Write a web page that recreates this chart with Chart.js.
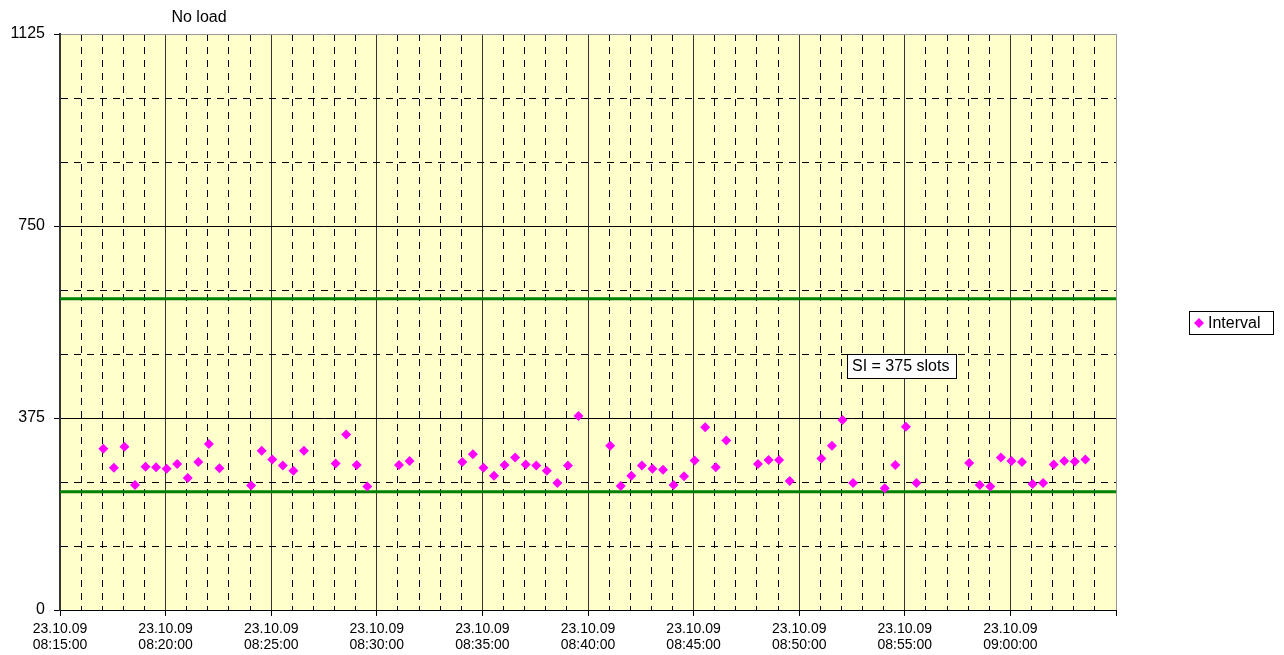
<!DOCTYPE html>
<html>
<head>
<meta charset="utf-8">
<title>No load</title>
<script src="https://cdn.jsdelivr.net/npm/chart.js@4.4.1/dist/chart.umd.min.js"></script>
<style>
  body { margin: 0; background: #fff; }
  canvas { display: block; }
</style>
</head>
<body>
<canvas id="myChart" width="1284" height="655"></canvas>
<script>
// ---------------------------------------------------------------- data section
var chart_title = 'No load';
var chart_date = '23.10.09';
var series_label = 'Interval';
var si_text = 'SI = 375 slots';

// sample times (hh:mm:ss) and interval values
var interval_times = [
    '08:17:03', '08:17:33', '08:18:03', '08:18:33', '08:19:03', '08:19:33', '08:20:03', '08:20:33',
    '08:21:03', '08:21:33', '08:22:03', '08:22:33',
    '08:24:03', '08:24:33', '08:25:03', '08:25:33', '08:26:03', '08:26:33',
    '08:28:03', '08:28:33', '08:29:03', '08:29:33',
    '08:31:03', '08:31:33',
    '08:34:03', '08:34:33', '08:35:03', '08:35:33', '08:36:03', '08:36:33', '08:37:03', '08:37:33',
    '08:38:03', '08:38:33', '08:39:03', '08:39:33',
    '08:41:03', '08:41:33', '08:42:03', '08:42:33', '08:43:03', '08:43:33', '08:44:03', '08:44:33',
    '08:45:03', '08:45:33', '08:46:03', '08:46:33',
    '08:48:03', '08:48:33', '08:49:03', '08:49:33',
    '08:51:03', '08:51:33', '08:52:03', '08:52:33',
    '08:54:03', '08:54:33', '08:55:03', '08:55:33',
    '08:58:03', '08:58:33', '08:59:03', '08:59:33', '09:00:03', '09:00:33', '09:01:03', '09:01:33',
    '09:02:03', '09:02:33', '09:03:03', '09:03:33'
];
var interval_values = [
    315, 278, 319, 244, 280, 279, 276, 285,
    258, 289, 324, 277,
    243, 311, 294, 282, 272, 311,
    286, 343, 283, 241,
    283, 291,
    289, 304, 278, 262, 283, 298, 284, 282,
    272, 248, 282, 379,
    321, 242, 262, 282, 276, 274, 244, 261,
    292, 357, 279, 331,
    285, 293, 293, 252,
    296, 321, 371, 248,
    238, 283, 358, 248,
    287, 244, 241, 298, 291, 289, 246, 248,
    284, 291, 290, 294
];

// green limit lines
var limit_values = [608, 231];

// axes
var x_start = '08:15:00';
var x_end = '09:05:00';
var y_ticks = [0, 375, 750, 1125];
var y_minor_step = 125;

// --------------------------------------------------------------------------------------------- helpers
function toSec(t) {
    var p = t.split(':');
    return (+p[0]) * 3600 + (+p[1]) * 60 + (+p[2]);
}
function pad(n) { return (n < 10 ? '0' : '') + n; }
function toHms(s) {
    return pad(Math.floor(s / 3600)) + ':' + pad(Math.floor(s / 60) % 60) + ':' + pad(s % 60);
}

var xMin = toSec(x_start);
var xMax = toSec(x_end);
var yMax = y_ticks[y_ticks.length - 1];
var yMajor = y_ticks[1];

var points = [];
for (var i = 0; i < interval_times.length; i++) {
    points.push({ x: toSec(interval_times[i]), y: interval_values[i] });
}

var limitSets = limit_values.map(function (v) {
    return {
        type: 'line',
        label: 'limit',
        data: [{ x: xMin, y: v }, { x: xMax, y: v }],
        borderColor: '#008000',
        borderWidth: 3,
        pointRadius: 0,
        fill: false
    };
});

var FONT = '"Liberation Sans", Arial, sans-serif';

// yellow plot area, title, legend box and SI label
const plotExtras = {
    id: 'plotExtras',
    beforeDraw(chart) {
        const { ctx, chartArea: a } = chart;
        ctx.save();
        ctx.fillStyle = '#FFFFCC';
        ctx.fillRect(a.left, a.top, a.width, a.height);
        ctx.restore();
    },
    afterDatasetsDraw(chart) {
        const { ctx, scales } = chart;
        ctx.save();
        ctx.font = '16px ' + FONT;
        ctx.textBaseline = 'middle';

        // SI label box
        var bx = Math.round(scales.x.getPixelForValue(toSec('08:52:17')));
        var by = Math.round(scales.y.getPixelForValue(500));
        var tw = Math.round(ctx.measureText(si_text).width);
        ctx.fillStyle = '#fff';
        ctx.fillRect(bx, by, tw + 12, 24);
        ctx.strokeStyle = '#000';
        ctx.lineWidth = 1;
        ctx.strokeRect(bx + 0.5, by + 0.5, tw + 12, 24);
        ctx.fillStyle = '#000';
        ctx.textAlign = 'left';
        ctx.fillText(si_text, bx + 5, by + 13);
        ctx.restore();
    },
    afterDraw(chart) {
        const { ctx, chartArea: a } = chart;
        ctx.save();
        ctx.textBaseline = 'middle';
        ctx.fillStyle = '#000';

        // title
        ctx.font = '16px ' + FONT;
        ctx.textAlign = 'center';
        ctx.fillText(chart_title, a.left + 139, 18);

        // legend
        var lx = a.right + 73, ly = Math.round((a.top + a.bottom) / 2) - 11;
        var lw = Math.round(ctx.measureText(series_label).width);
        ctx.fillStyle = '#fff';
        ctx.fillRect(lx, ly, lw + 32, 23);
        ctx.strokeStyle = '#000';
        ctx.lineWidth = 1;
        ctx.strokeRect(lx + 0.5, ly + 0.5, lw + 32, 23);
        var cx = lx + 10, cy = ly + 12;
        ctx.fillStyle = '#FF00FF';
        ctx.beginPath();
        ctx.moveTo(cx, cy - 5); ctx.lineTo(cx + 5, cy); ctx.lineTo(cx, cy + 5); ctx.lineTo(cx - 5, cy);
        ctx.closePath();
        ctx.fill();
        ctx.fillStyle = '#000';
        ctx.textAlign = 'left';
        ctx.fillText(series_label, lx + 19, cy + 1);
        ctx.restore();
    }
};

// ---------------------------------------------------------------------------------------------- chart
const ctx = document.getElementById('myChart').getContext('2d');
const myChart = new Chart(ctx, {
    type: 'scatter',
    data: {
        datasets: [{
            label: series_label,
            data: points,
            pointStyle: 'rectRot',
            pointRadius: 5,
            pointBackgroundColor: '#FF00FF',
            pointBorderWidth: 0,
            showLine: false
        }].concat(limitSets)
    },
    options: {
        responsive: false,
        animation: false,
        layout: { padding: { left: 0, top: 34, right: 168, bottom: 0 } },
        plugins: {
            legend: { display: false },
            title: { display: false },
            tooltip: { enabled: false }
        },
        scales: {
            x: {
                type: 'linear',
                min: xMin,
                max: xMax,
                afterFit: function (s) { s.height = 45; },
                ticks: {
                    stepSize: 60,
                    autoSkip: false,
                    maxRotation: 0,
                    padding: 6,
                    color: '#000',
                    font: { family: FONT, size: 14, lineHeight: 1.08 },
                    callback: function (v) {
                        if (v % 300 !== 0 || v === xMax) return '';
                        return [chart_date, toHms(v)];
                    }
                },
                grid: {
                    lineWidth: 1,
                    tickLength: 6,
                    color: function (c) {
                        if (!c.tick) return '#000';
                        if (c.tick.value === xMax) return '#999';
                        return c.tick.value % 300 === 0 ? '#333' : '#000';
                    },
                    tickColor: function (c) {
                        return c.tick && c.tick.value % 300 === 0 ? '#000' : 'rgba(0,0,0,0)';
                    }
                },
                border: {
                    color: '#000',
                    width: 1,
                    dash: function (c) {
                        return c.tick && c.tick.value % 300 !== 0 ? [7, 6] : [];
                    }
                }
            },
            y: {
                min: 0,
                max: yMax,
                afterFit: function (s) { s.width = 60; },
                ticks: {
                    stepSize: y_minor_step,
                    autoSkip: false,
                    padding: 9,
                    color: '#000',
                    font: { family: FONT, size: 16 },
                    callback: function (v) {
                        return y_ticks.indexOf(v) >= 0 ? v : '';
                    }
                },
                grid: {
                    lineWidth: 1,
                    tickLength: 6,
                    color: function (c) {
                        if (!c.tick) return '#000';
                        if (c.tick.value === yMax) return '#999';
                        return '#000';
                    },
                    tickColor: function (c) {
                        return c.tick && c.tick.value % yMajor === 0 ? '#000' : 'rgba(0,0,0,0)';
                    }
                },
                border: {
                    color: '#333',
                    width: 2,
                    dash: function (c) {
                        return c.tick && c.tick.value % yMajor !== 0 ? [7, 6] : [];
                    }
                }
            }
        }
    },
    plugins: [plotExtras]
});
</script>
</body>
</html>
